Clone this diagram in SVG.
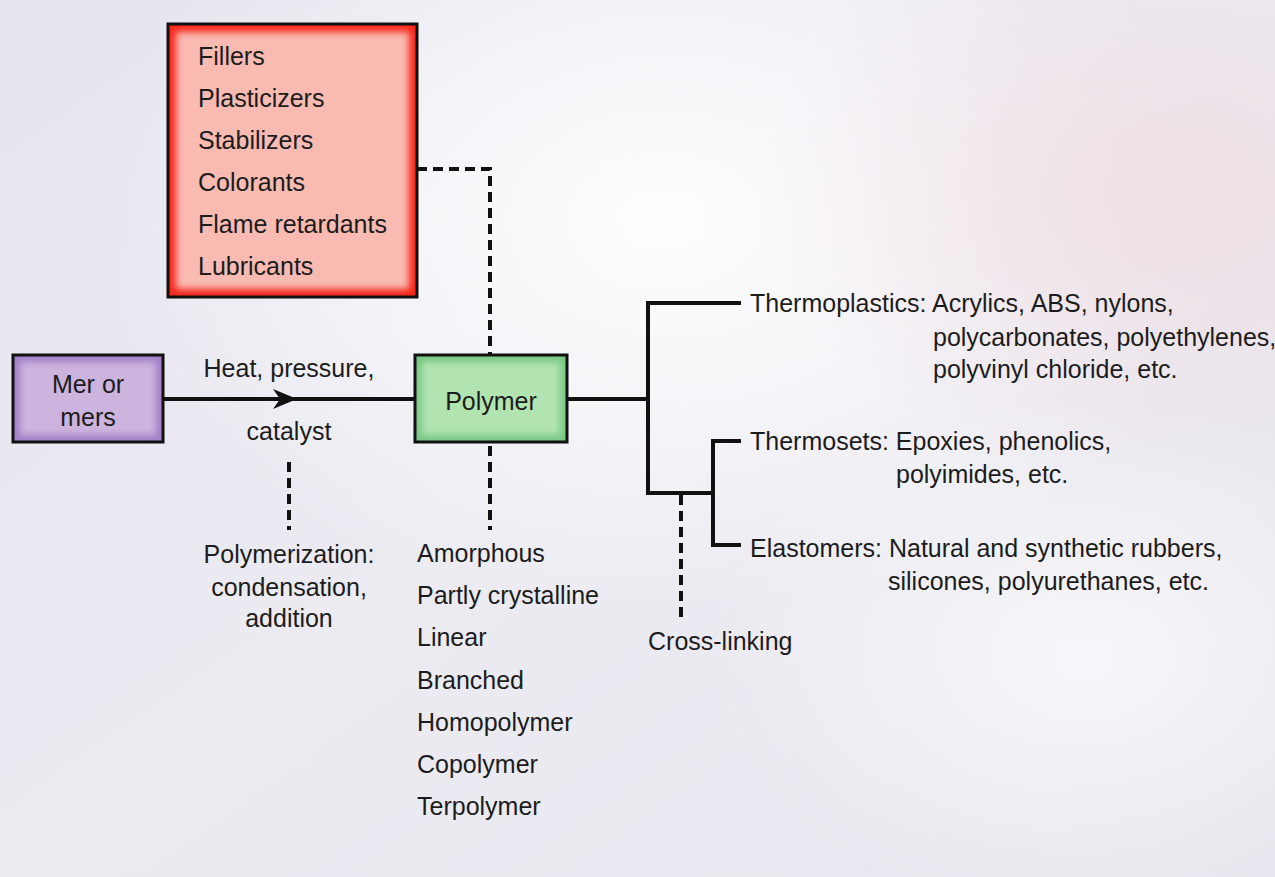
<svg xmlns="http://www.w3.org/2000/svg" width="1275" height="877" viewBox="0 0 1275 877">
<defs>
<linearGradient id="bgBase" x1="0" y1="0" x2="1" y2="1">
<stop offset="0" stop-color="#e6e5ef"/>
<stop offset="0.5" stop-color="#ecebf2"/>
<stop offset="1" stop-color="#e8e6ee"/>
</linearGradient>
<radialGradient id="bgWhite" cx="0.52" cy="0.25" r="0.45">
<stop offset="0" stop-color="#ffffff" stop-opacity="0.95"/>
<stop offset="1" stop-color="#ffffff" stop-opacity="0"/>
</radialGradient>
<radialGradient id="bgPink" cx="0.92" cy="0.22" r="0.33">
<stop offset="0" stop-color="#efdde3" stop-opacity="0.85"/>
<stop offset="1" stop-color="#efdde3" stop-opacity="0"/>
</radialGradient>
<radialGradient id="bgWhite2" cx="0.85" cy="0.75" r="0.3">
<stop offset="0" stop-color="#ffffff" stop-opacity="0.6"/>
<stop offset="1" stop-color="#ffffff" stop-opacity="0"/>
</radialGradient>
<filter id="soft" x="-10%" y="-10%" width="120%" height="120%">
<feGaussianBlur stdDeviation="3.5"/>
</filter>
<clipPath id="clipRed"><rect x="168" y="24" width="249" height="273"/></clipPath>
<clipPath id="clipMer"><rect x="13" y="355" width="150" height="87"/></clipPath>
<clipPath id="clipPoly"><rect x="415" y="355" width="152" height="87"/></clipPath>
<marker id="arrow" markerWidth="26" markerHeight="22" refX="24" refY="11" orient="auto" markerUnits="userSpaceOnUse">
<path d="M0,1 L24,11 L0,21 L7,11 Z" fill="#111"/>
</marker>
</defs>
<style>
text { font-family: "Liberation Sans", Arial, sans-serif; font-size: 25px; fill: #1c1c1c; }
.c { text-anchor: middle; }
.line { stroke: #111; stroke-width: 4; fill: none; }
.dash { stroke: #111; stroke-width: 4; fill: none; stroke-dasharray: 10 6; }
.border { fill: none; stroke: #111; stroke-width: 3; }
</style>

<rect width="1275" height="877" fill="url(#bgBase)"/>
<rect width="1275" height="877" fill="url(#bgWhite)"/>
<rect width="1275" height="877" fill="url(#bgPink)"/>
<rect width="1275" height="877" fill="url(#bgWhite2)"/>

<g id="connectors">
<path class="line" d="M163 399 H297" marker-end="url(#arrow)"/>
<path class="line" d="M290 399 H415"/>
<path class="dash" d="M289 462 V530"/>
<path class="dash" d="M417 169 H490 V355"/>
<path class="dash" d="M490 446 V530"/>
<path class="line" d="M567 399 H648"/>
<path class="line" d="M741 303 H648 V493 H713"/>
<path class="line" d="M741 441 H713 V545 H741"/>
<path class="dash" d="M681 495 V620"/>
</g>

<g id="additives">
<g clip-path="url(#clipRed)">
<rect x="168" y="24" width="249" height="273" fill="#f8261a"/>
<rect x="176" y="32" width="233" height="257" fill="#f9bab2" filter="url(#soft)"/>
</g>
<rect class="border" x="168" y="24" width="249" height="273"/>
<text x="198" y="65">Fillers</text>
<text x="198" y="107">Plasticizers</text>
<text x="198" y="149">Stabilizers</text>
<text x="198" y="191">Colorants</text>
<text x="198" y="233">Flame retardants</text>
<text x="198" y="275">Lubricants</text>
</g>

<g id="mer">
<g clip-path="url(#clipMer)">
<rect x="13" y="355" width="150" height="87" fill="#a37fc6"/>
<rect x="20" y="362" width="136" height="73" fill="#cdb4de" filter="url(#soft)"/>
</g>
<rect class="border" x="13" y="355" width="150" height="87"/>
<text class="c" x="88" y="393">Mer or</text>
<text class="c" x="88" y="426">mers</text>
</g>

<g id="process-label">
<text class="c" x="289" y="377">Heat, pressure,</text>
<text class="c" x="289" y="440">catalyst</text>
</g>

<g id="polymerization">
<text class="c" x="289" y="563">Polymerization:</text>
<text class="c" x="289" y="596">condensation,</text>
<text class="c" x="289" y="627">addition</text>
</g>

<g id="polymer">
<g clip-path="url(#clipPoly)">
<rect x="415" y="355" width="152" height="87" fill="#78c884"/>
<rect x="422" y="362" width="138" height="73" fill="#b2e4b2" filter="url(#soft)"/>
</g>
<rect class="border" x="415" y="355" width="152" height="87"/>
<text class="c" x="491" y="410">Polymer</text>
</g>

<g id="structures">
<text x="417" y="562">Amorphous</text>
<text x="417" y="604">Partly crystalline</text>
<text x="417" y="646">Linear</text>
<text x="417" y="689">Branched</text>
<text x="417" y="731">Homopolymer</text>
<text x="417" y="773">Copolymer</text>
<text x="417" y="815">Terpolymer</text>
</g>

<g id="thermoplastics">
<text x="750" y="312">Thermoplastics: Acrylics, ABS, nylons,</text>
<text x="933" y="346">polycarbonates, polyethylenes,</text>
<text x="933" y="378">polyvinyl chloride, etc.</text>
</g>

<g id="thermosets">
<text x="750" y="450">Thermosets: Epoxies, phenolics,</text>
<text x="896" y="483">polyimides, etc.</text>
</g>

<g id="elastomers">
<text x="750" y="557">Elastomers: Natural and synthetic rubbers,</text>
<text x="888" y="590">silicones, polyurethanes, etc.</text>
</g>

<g id="crosslinking">
<text x="648" y="650">Cross-linking</text>
</g>
</svg>
